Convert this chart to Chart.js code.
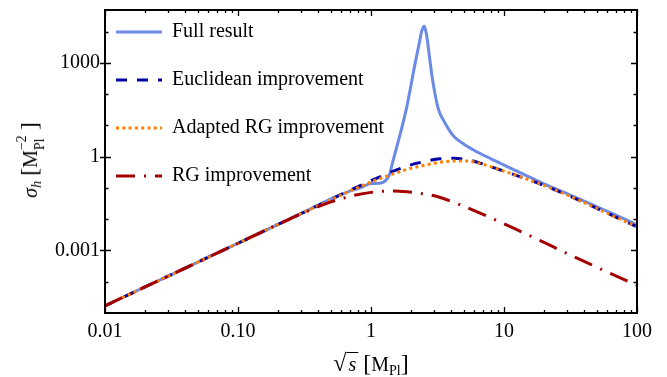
<!DOCTYPE html>
<html><head><meta charset="utf-8">
<script src="https://cdn.jsdelivr.net/npm/chart.js@4.4.1/dist/chart.umd.min.js"></script>
<style>
html,body{margin:0;padding:0;background:#fff;}
#wrap{position:relative;width:667px;height:377px;overflow:hidden;}
canvas{position:absolute;left:0;top:0;}
.t{position:absolute;font-family:"Liberation Serif",serif;font-size:20px;color:#000;white-space:nowrap;line-height:1;}
.t sub{font-size:14px;vertical-align:-4px;line-height:0;}
.t sup{font-size:14px;vertical-align:8px;line-height:0;}
.ss{display:inline-block;position:relative;width:20px;height:10px;}
.ss .u{position:absolute;left:0;top:-12px;font-size:14px;}
.ss .d{position:absolute;left:0;top:6px;font-size:14px;}
.br{font-size:24px;}
</style></head><body>
<div id="wrap">
<canvas id="c" width="667" height="377"></canvas>
<div id="xt" class="t" style="left:371px;top:363px;transform:translate(-50%,-50%)"><span style="font-size:24px">√</span><i style="border-top:1.3px solid #000;padding:0 2px">s</i>&nbsp;<span class="br">[</span>M<sub>Pl</sub><span class="br">]</span></div>
<div id="yt" class="t" style="left:29px;top:160px;transform:translate(-50%,-50%) rotate(-90deg)"><i>σ</i><sub><i>h</i></sub>&nbsp;<span class="br">[</span>M<span class="ss"><span class="u">−2</span><span class="d">Pl</span></span><span class="br">]</span></div>
</div>
<script>
// ---- data ----
const seriesNames = ['Full result', 'Euclidean improvement', 'Adapted RG improvement', 'RG improvement'];

const fullX = [0.01, 0.02, 0.05, 0.1, 0.2, 0.3, 0.5, 0.7, 0.85, 1.0, 1.15, 1.3, 1.39, 1.45, 1.59, 1.86, 2.15, 2.3, 2.41, 2.51, 2.58, 2.65, 2.75, 2.87, 3.0, 3.22, 3.6, 4.17, 5, 6, 8, 10, 15, 20, 30, 50, 70, 100];
const fullY = [1.7e-5, 6.8e-5, 4.25e-4, 1.7e-3, 6.8e-3, 0.0153, 0.045, 0.08, 0.105, 0.138, 0.14, 0.18, 0.3, 0.63, 2.7, 40, 1000, 4000, 10500, 14800, 10500, 5600, 1600, 400, 126, 32, 12, 4.6, 2.5, 1.58, 0.85, 0.54, 0.24, 0.135, 0.065, 0.025, 0.0132, 0.0066];

const eucX = [0.01, 0.02, 0.05, 0.1, 0.2, 0.3, 0.5, 0.7, 1.0, 1.39, 1.86, 2.5, 3.3, 4.2, 5.3, 6.4, 7.9, 10, 15, 20, 30, 40, 60, 85, 100];
const eucY = [1.7e-5, 6.8e-5, 4.25e-4, 1.7e-3, 6.8e-3, 0.0153, 0.043, 0.085, 0.17, 0.31, 0.50, 0.69, 0.85, 0.89, 0.80, 0.65, 0.48, 0.343, 0.188, 0.12, 0.059, 0.034, 0.0155, 0.0078, 0.0058];

const adX = [0.01, 0.02, 0.05, 0.1, 0.2, 0.3, 0.5, 0.7, 1.0, 1.39, 1.86, 2.5, 3.3, 4.2, 5.3, 6.4, 7.9, 10, 15, 20, 30, 40, 60, 85, 100];
const adY = [1.7e-5, 6.8e-5, 4.25e-4, 1.7e-3, 6.8e-3, 0.0152, 0.042, 0.08, 0.155, 0.26, 0.39, 0.53, 0.66, 0.73, 0.72, 0.63, 0.48, 0.343, 0.188, 0.12, 0.059, 0.034, 0.0155, 0.0078, 0.0058];

const rgX = [0.01, 0.02, 0.05, 0.1, 0.2, 0.3, 0.5, 0.62, 0.75, 1.0, 1.4, 1.86, 2.5, 3.13, 4.4, 6.6, 10, 12.5, 20, 30, 50, 70, 100];
const rgY = [1.7e-5, 6.8e-5, 4.25e-4, 1.7e-3, 6.8e-3, 0.0150, 0.036, 0.047, 0.058, 0.072, 0.080, 0.075, 0.064, 0.053, 0.032, 0.0157, 0.0071, 0.0046, 0.0018, 7.9e-4, 2.9e-4, 1.5e-4, 7.6e-5];

// ---- tick values and labels ----
const xTickValues = [0.01, 0.1, 1, 10, 100];
const xTickLabels = ['0.01', '0.10', '1', '10', '100'];
const xMinorTicks = [0.02,0.03,0.04,0.05,0.06,0.07,0.08,0.09, 0.2,0.3,0.4,0.5,0.6,0.7,0.8,0.9, 2,3,4,5,6,7,8,9, 20,30,40,50,60,70,80,90];
const yTickValues = [0.001, 1, 1000];
const yTickLabels = ['0.001', '1', '1000'];
const yMinorTicks = [1e-4, 0.01, 0.1, 10, 100, 1e4];

const pts = (xs, ys) => xs.map((x, i) => ({x: x, y: ys[i]}));

const FONT = {family: '"Liberation Serif", serif', size: 20};

const frameTicks = {
  id: 'frameTicks',
  afterDraw(chart) {
    const {ctx, chartArea: a, scales: {x, y}} = chart;
    ctx.save();
    ctx.strokeStyle = '#000';
    ctx.lineCap = 'butt';
    ctx.lineWidth = 1.3;
    ctx.beginPath();
    xMinorTicks.forEach(v => {
      const p = Math.round(x.getPixelForValue(v)) + 0.5;
      ctx.moveTo(p, a.bottom); ctx.lineTo(p, a.bottom - 3);
      ctx.moveTo(p, a.top); ctx.lineTo(p, a.top + 3);
    });
    xTickValues.forEach(v => {
      const p = Math.round(x.getPixelForValue(v)) + 0.5;
      ctx.moveTo(p, a.bottom); ctx.lineTo(p, a.bottom - 6);
      ctx.moveTo(p, a.top); ctx.lineTo(p, a.top + 6);
    });
    yMinorTicks.forEach(v => {
      const p = Math.round(y.getPixelForValue(v)) + 0.5;
      ctx.moveTo(a.left, p); ctx.lineTo(a.left + 3.5, p);
      ctx.moveTo(a.right, p); ctx.lineTo(a.right - 3.5, p);
    });
    yTickValues.forEach(v => {
      const p = Math.round(y.getPixelForValue(v)) + 0.5;
      ctx.moveTo(a.left - 5, p); ctx.lineTo(a.left + 6, p);
      ctx.moveTo(a.right, p); ctx.lineTo(a.right - 6, p);
    });
    ctx.stroke();
    ctx.lineWidth = 2;
    ctx.strokeRect(a.left, a.top, a.right - a.left, a.bottom - a.top);
    ctx.restore();
  }
};

// place the built-in legend inside the plot, top-left
const legendPlace = {
  id: 'legendPlace',
  afterLayout(chart) {
    const lg = chart.legend;
    if (!lg) return;
    const pad = lg.options.labels.padding;
    const w = lg.right - lg.left, h = lg.bottom - lg.top;
    lg.left = chart.chartArea.left + 11 - pad; lg.right = lg.left + w;
    lg.top = chart.chartArea.top + 22 - 10 - pad; lg.bottom = lg.top + h;
  }
};

new Chart(document.getElementById('c'), {
  type: 'line',
  data: {
    datasets: [
      {label: seriesNames[0], data: pts(fullX, fullY), borderColor: '#6b8ae6', backgroundColor: '#6b8ae6', borderWidth: 3, order: 4},
      {label: seriesNames[1], data: pts(eucX, eucY), borderColor: '#0000a6', backgroundColor: '#0000a6', borderWidth: 3, borderDash: [11, 10], order: 3},
      {label: seriesNames[2], data: pts(adX, adY), borderColor: '#ff8000', backgroundColor: '#ff8000', borderWidth: 3, borderDash: [3, 3.3], order: 2},
      {label: seriesNames[3], data: pts(rgX, rgY), borderColor: '#a50000', backgroundColor: '#a50000', borderWidth: 3, borderDash: [19, 9, 2, 9], order: 1}
    ]
  },
  options: {
    responsive: false,
    devicePixelRatio: 1,
    animation: false,
    parsing: false,
    elements: {
      point: {radius: 0, hoverRadius: 0},
      line: {cubicInterpolationMode: 'monotone', fill: false}
    },
    layout: {padding: {top: 10, right: 30, left: 0, bottom: 0}},
    scales: {
      x: {
        type: 'logarithmic', min: 0.01, max: 100,
        afterBuildTicks: s => { s.ticks = xTickValues.map(v => ({value: v})); },
        afterFit: s => { s.height = 64; s.paddingLeft = 0; s.paddingRight = 0; },
        ticks: {callback: (v, i) => xTickLabels[i], font: FONT, color: '#000', padding: 7, maxRotation: 0, autoSkip: false},
        grid: {display: false, drawTicks: false},
        border: {display: false}
      },
      y: {
        type: 'logarithmic', min: 1e-5, max: 4.9e4,
        afterBuildTicks: s => { s.ticks = yTickValues.map(v => ({value: v})); },
        afterFit: s => { s.width = 105; s.paddingTop = 0; s.paddingBottom = 0; },
        ticks: {callback: (v, i) => yTickLabels[i], font: FONT, color: '#000', padding: 5, autoSkip: false},
        grid: {display: false, drawTicks: false},
        border: {display: false}
      }
    },
    plugins: {
      legend: {
        position: 'chartArea', align: 'start',
        labels: {
          font: FONT, color: '#000', padding: 28,
          usePointStyle: true, pointStyle: 'line', pointStyleWidth: 46, boxWidth: 46,
          generateLabels: chart => Chart.defaults.plugins.legend.labels.generateLabels(chart).map(it => {
            const ds = chart.data.datasets[it.datasetIndex];
            it.lineDash = ds.borderDash || [];
            it.lineWidth = ds.borderWidth;
            it.strokeStyle = ds.borderColor;
            it.lineCap = 'butt';
            return it;
          }),
          sort: (a, b) => a.datasetIndex - b.datasetIndex
        }
      },
      tooltip: {enabled: false}
    }
  },
  plugins: [frameTicks, legendPlace]
});
</script>
</body></html>
